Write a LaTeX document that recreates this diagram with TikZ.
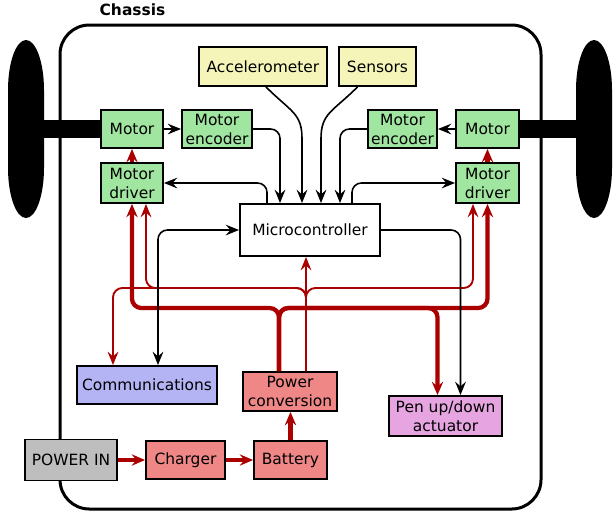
\documentclass[tikz,border=0pt]{standalone}
\usepackage{fontspec}
\setmainfont{DejaVu Sans}
\usetikzlibrary{arrows.meta,calc}
\definecolor{grn}{RGB}{160,229,160}
\definecolor{ylw}{RGB}{245,245,185}
\definecolor{blu}{RGB}{180,180,245}
\definecolor{rbox}{RGB}{240,135,135}
\definecolor{pnk}{RGB}{230,165,225}
\definecolor{gry}{RGB}{190,190,190}
\definecolor{lred}{RGB}{170,0,0}
\begin{document}
\begin{tikzpicture}[x=0.75pt,y=-0.75pt,
  box/.style={draw=black,line width=1.4pt,inner sep=0pt,align=center,font=\fontsize{11.6}{14.3}\selectfont},
  sz/.style 2 args={minimum width=#1*0.75pt,minimum height=#2*0.75pt},
  tip/.style={-{Stealth[length=10pt,width=8pt,inset=3.5pt]}},
  blk/.style={draw=black,line width=1.2pt,rounded corners=7pt,tip},
  thinr/.style={draw=lred,line width=1.4pt,rounded corners=7pt,tip},
  thickr/.style={draw=lred,line width=3.2pt,rounded corners=7pt,-{Stealth[length=10pt,width=8.5pt,inset=3.5pt]}},
  wheel/.style={fill=black},
]
\useasboundingbox (0,0) rectangle (613,512);
% chassis
\draw[line width=2.25pt,rounded corners=22pt] (60,25) rectangle (541,509);
\node[font=\bfseries\fontsize{11.6}{14}\selectfont] (chlabel) at (132.5,10) {Chassis};
% wheels and axles
\path[wheel] (8,90) -- (8,168) arc[start angle=180,end angle=360,x radius=13.5pt,y radius=37.5pt]
  -- (44,90) arc[start angle=0,end angle=180,x radius=13.5pt,y radius=37.5pt] -- cycle;
\path[wheel] (576,90) -- (576,168) arc[start angle=180,end angle=360,x radius=13.5pt,y radius=37.5pt]
  -- (612,90) arc[start angle=0,end angle=180,x radius=13.5pt,y radius=37.5pt] -- cycle;
\fill (44,120) rectangle (101,138);
\fill (519,120) rectangle (576,138);
% nodes
\node[box,fill=grn,sz={62}{38}] (motorL) at (132,129) {Motor};
\node[box,fill=grn,sz={70}{38}] (encL) at (217,129) {Motor\\encoder};
\node[box,fill=grn,sz={62}{40}] (drvL) at (132,183) {Motor\\driver};
\node[box,fill=ylw,sz={128}{39}] (acc) at (263,66.5) {Accelerometer};
\node[box,fill=ylw,sz={77}{39}] (sens) at (377.5,66.5) {Sensors};
\node[box,fill=grn,sz={69}{38}] (encR) at (402.5,129) {Motor\\encoder};
\node[box,fill=grn,sz={63}{38}] (motorR) at (487.5,129) {Motor};
\node[box,fill=grn,sz={63}{40}] (drvR) at (487.5,183) {Motor\\driver};
\node[box,fill=white,sz={140}{52}] (micro) at (310,230) {Microcontroller};
\node[box,fill=blu,sz={140}{38}] (comm) at (147,385) {Communications};
\node[box,fill=rbox,sz={94}{39}] (pconv) at (290,391.5) {Power\\conversion};
\node[box,fill=pnk,sz={113}{40}] (pen) at (445.5,416) {Pen up/down\\actuator};
\node[box,fill=gry,sz={92}{41}] (pin) at (71,460) {POWER IN};
\node[box,fill=rbox,sz={79}{38}] (chg) at (185.5,460) {Charger};
\node[box,fill=rbox,sz={73}{38}] (bat) at (290.5,460) {Battery};
% thin red (logic power)
\coordinate (thiny) at (0,288);
\coordinate (pcB) at ($(pconv.north)+(16,0)$);
\coordinate (dlB) at ($(drvL.south)+(14,0)$);
\coordinate (drB) at ($(drvR.south)+(-14.5,0)$);
\coordinate (cmB) at ($(comm.north)+(-34,0)$);
\draw[thinr] (pcB) -- (pcB |- micro.south);
\draw[thinr] (pcB) |- (thiny -| dlB) -- (dlB);
\draw[thinr] (pcB) |- (thiny -| drB) -- (drB);
\draw[thinr] (pcB) |- (thiny -| cmB) -- (cmB);
% thick red (motor power)
\coordinate (busy) at (0,308);
\coordinate (pcA) at ($(pconv.north)+(-11,0)$);
\coordinate (penA) at ($(pen.north)+(-8,0)$);
\draw[thickr] (pcA) |- (busy -| drvL.south) -- (drvL.south);
\draw[thickr] (pcA) |- (busy -| drvR.south) -- (drvR.south);
\draw[thickr] (pcA) |- (busy -| penA) -- (penA);
\draw[thickr] (drvL.north) -- (motorL.south);
\draw[thickr] (drvR.north) -- (motorR.south);
\draw[thickr] (pin) -- (chg);
\draw[thickr] (chg) -- (bat);
\draw[thickr] (bat.north) -- (bat.north |- pconv.south);
% black signal lines
\draw[blk] (motorL) -- (encL);
\draw[blk] (motorR) -- (encR);
\draw[blk] (encL.east) -| ($(micro.north)+(-30,0)$);
\draw[blk] (encR.west) -| ($(micro.north)+(30,0)$);
\draw[blk] ($(acc.south)+(3,0)$) .. controls +(25,25) and +(0,-35) .. ($(micro.north)+(-8,-55)$) -- ($(micro.north)+(-8,0)$);
\draw[blk] ($(sens.south)+(-20,0)$) .. controls +(-25,25) and +(0,-35) .. ($(micro.north)+(11,-55)$) -- ($(micro.north)+(11,0)$);
\draw[blk] ($(micro.north)+(-43,0)$) |- (drvL.east);
\draw[blk] ($(micro.north)+(42,0)$) |- (drvR.west);
\draw[blk,{Stealth[length=10pt,width=8pt,inset=3.5pt]}-{Stealth[length=10pt,width=8pt,inset=3.5pt]}] ($(comm.north)+(11,0)$) |- (micro.west);
\draw[blk] (micro.east) -| ($(pen.north)+(15,0)$);
\end{tikzpicture}
\end{document}
